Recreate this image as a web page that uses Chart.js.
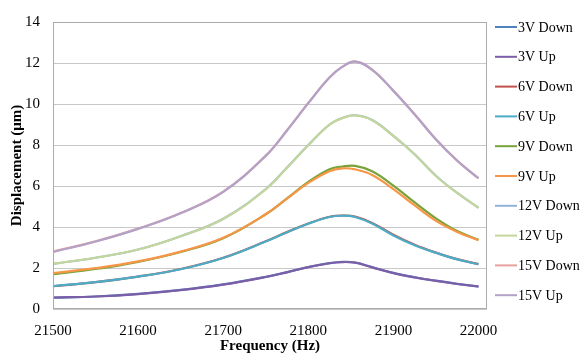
<!DOCTYPE html>
<html>
<head>
<meta charset="utf-8">
<script src="https://cdn.jsdelivr.net/npm/chart.js@4"></script>
<style>
    html, body { margin: 0; padding: 0; background: #fff; }
    #wrap { width: 585px; height: 359px; }
</style>
</head>
<body>
<div id="wrap"><canvas id="freqChart" width="585" height="359"></canvas></div>
<script>
/* =========================
   DATA
========================= */

const freqs = [21500, 21550, 21600, 21650, 21700, 21750, 21775, 21800, 21825, 21840, 21855, 21875, 21900, 21925, 21950, 21975, 22000];

const v3Down  = [0.55, 0.61, 0.74, 0.93, 1.20, 1.57, 1.80, 2.05, 2.24, 2.30, 2.27, 2.04, 1.76, 1.55, 1.38, 1.23, 1.10];
const v3Up    = [0.56, 0.61, 0.73, 0.92, 1.19, 1.56, 1.79, 2.04, 2.23, 2.29, 2.26, 2.03, 1.75, 1.54, 1.37, 1.22, 1.09];
const v6Down  = [1.11, 1.31, 1.58, 1.95, 2.50, 3.30, 3.75, 4.17, 4.50, 4.56, 4.51, 4.20, 3.62, 3.13, 2.75, 2.43, 2.19];
const v6Up    = [1.12, 1.31, 1.58, 1.94, 2.49, 3.29, 3.74, 4.16, 4.49, 4.55, 4.49, 4.17, 3.59, 3.11, 2.74, 2.42, 2.19];
const v9Down  = [1.70, 1.95, 2.30, 2.78, 3.45, 4.62, 5.40, 6.20, 6.82, 6.95, 6.98, 6.72, 6.02, 5.20, 4.42, 3.80, 3.38];
const v9Up    = [1.75, 1.99, 2.32, 2.80, 3.47, 4.62, 5.38, 6.15, 6.72, 6.86, 6.81, 6.54, 5.85, 5.05, 4.30, 3.76, 3.35];
const v12Down = [2.20, 2.50, 2.90, 3.55, 4.40, 5.85, 6.90, 8.00, 9.00, 9.32, 9.45, 9.22, 8.45, 7.55, 6.50, 5.66, 4.94];
const v12Up   = [2.21, 2.50, 2.90, 3.55, 4.39, 5.84, 6.89, 7.99, 8.99, 9.31, 9.44, 9.21, 8.44, 7.54, 6.49, 5.66, 4.94];
const v15Down = [2.80, 3.30, 3.92, 4.68, 5.72, 7.48, 8.72, 10.05, 11.30, 11.82, 12.08, 11.68, 10.65, 9.50, 8.28, 7.24, 6.38];
const v15Up   = [2.78, 3.29, 3.91, 4.67, 5.71, 7.47, 8.71, 10.04, 11.29, 11.81, 12.07, 11.67, 10.64, 9.49, 8.27, 7.23, 6.37];

const seriesLabels = ["3V Down", "3V Up", "6V Down", "6V Up", "9V Down", "9V Up", "12V Down", "12V Up", "15V Down", "15V Up"];
const seriesValues = [v3Down, v3Up, v6Down, v6Up, v9Down, v9Up, v12Down, v12Up, v15Down, v15Up];
const seriesColors = ["#4F81BD", "#7B5EA7", "#C0504D", "#4BACC6", "#77A33A", "#F79646", "#95B3D7", "#C3D69B", "#E6A19F", "#B3A2C7"];

const xTicks = [21500, 21600, 21700, 21800, 21900, 22000];
const yTicks = [0, 2, 4, 6, 8, 10, 12, 14];

const SERIF = "'Liberation Serif', 'Times New Roman', serif";


/* =========================
   PLUGINS
========================= */

// grey frame round the plot area
const framePlugin = {
    id: "frame",
    afterDatasetsDraw(chart) {
        const { ctx, chartArea: a } = chart;
        ctx.save();
        ctx.strokeStyle = "#ababab";
        ctx.lineWidth = 1;
        ctx.strokeRect(a.left + 0.5, a.top + 0.5, a.right - a.left - 1, a.bottom - a.top - 1);
        ctx.restore();
    }
};

// Excel style legend on the right, one line per series
const sideLegend = {
    id: "sideLegend",
    afterDraw(chart) {
        const { ctx } = chart;
        const x0 = chart.chartArea.right + 8;
        ctx.save();
        ctx.font = "14px " + SERIF;
        ctx.textBaseline = "middle";
        ctx.fillStyle = "#000";
        chart.data.datasets.forEach((ds, i) => {
            const y = 27 + i * 29.8;
            ctx.strokeStyle = ds.borderColor;
            ctx.lineWidth = 2;
            ctx.beginPath();
            ctx.moveTo(x0, y);
            ctx.lineTo(x0 + 22, y);
            ctx.stroke();
            ctx.fillText(ds.label, x0 + 23, y + 1);
        });
        ctx.restore();
    }
};


/* =========================
   CHART
========================= */

function renderChart() {
    const ctx = document.getElementById("freqChart");
    if (!ctx || typeof Chart === "undefined") return;

    // later series sit on top, like the spreadsheet original
    const datasets = seriesLabels.map((label, i) => ({
        label: label,
        data: freqs.map((f, j) => ({ x: f, y: seriesValues[i][j] })),
        borderColor: seriesColors[i],
        backgroundColor: seriesColors[i],
        borderWidth: 2.2,
        pointRadius: 0,
        tension: 0.4,
        fill: false,
        order: -i
    }));

    new Chart(ctx, {
        type: "line",
        data: { datasets: datasets },
        options: {
            responsive: false,
            animation: false,
            layout: { padding: { top: 13, right: 98, bottom: 0, left: 0 } },
            plugins: {
                legend: { display: false },
                tooltip: { enabled: false }
            },
            scales: {
                x: {
                    type: "linear",
                    min: 21500,
                    max: 22010,
                    afterBuildTicks: s => { s.ticks = xTicks.map(v => ({ value: v })); },
                    afterFit: s => { s.height = 50; },
                    grid: { display: false, drawTicks: false },
                    border: { display: false },
                    ticks: {
                        padding: 13,
                        maxRotation: 0,
                        color: "#000",
                        font: { family: SERIF, size: 15 },
                        callback: v => String(v)
                    },
                    title: {
                        display: true,
                        text: "Frequency (Hz)",
                        color: "#000",
                        padding: { top: 0, bottom: 4 },
                        font: { family: SERIF, size: 15, weight: "bold" }
                    }
                },
                y: {
                    min: 0,
                    max: 14,
                    afterBuildTicks: s => { s.ticks = yTicks.map(v => ({ value: v })); },
                    afterFit: s => { s.width = 53; },
                    grid: { color: "#c8c8c8", drawTicks: false },
                    border: { display: false },
                    ticks: {
                        padding: 13,
                        color: "#000",
                        font: { family: SERIF, size: 15 }
                    },
                    title: {
                        display: true,
                        text: "Displacement (μm)",
                        color: "#000",
                        padding: { top: 8, bottom: 0 },
                        font: { family: SERIF, size: 15, weight: "bold" }
                    }
                }
            }
        },
        plugins: [framePlugin, sideLegend]
    });
}

renderChart();
</script>
</body>
</html>
